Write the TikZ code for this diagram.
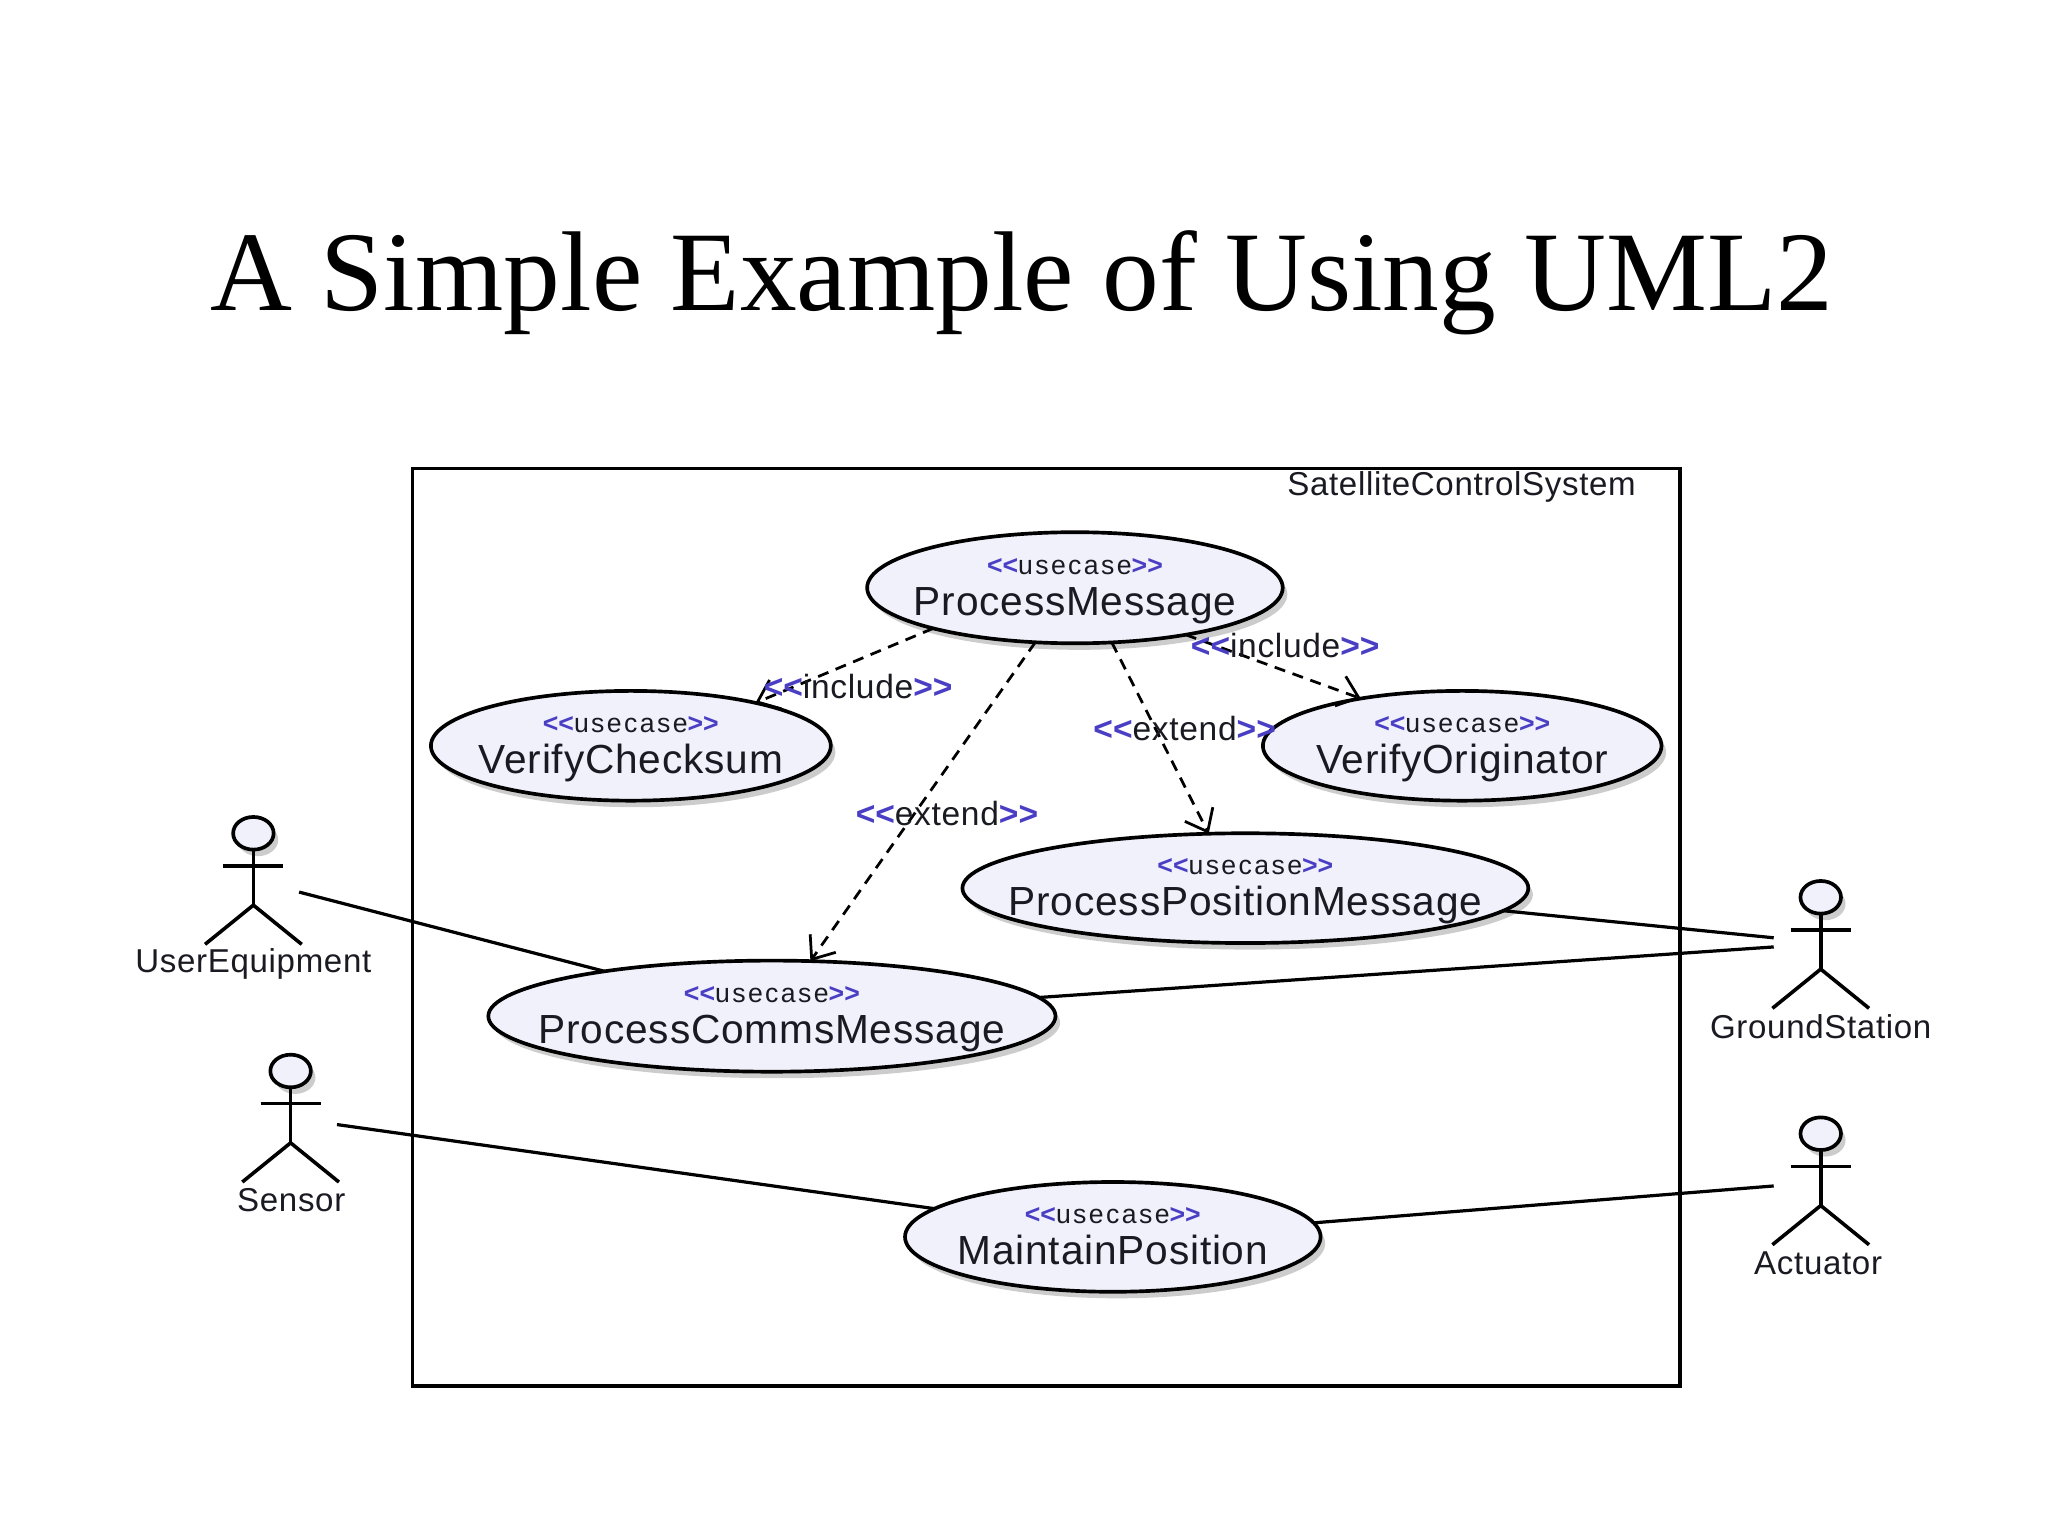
\documentclass[tikz,border=0pt]{standalone}
\usepackage{fontspec}
\usetikzlibrary{shapes.geometric,shadows,arrows.meta}
\setmainfont{Liberation Sans}
\newfontfamily\titlefont{Liberation Serif}
\newfontfamily\umlfont[LetterSpace=2]{Liberation Sans}
\newfontfamily\stereofont[LetterSpace=9]{Liberation Sans}
\definecolor{umlblue}{HTML}{4A3FC4}
\definecolor{umlfill}{HTML}{F1F1FC}
\definecolor{umlink}{HTML}{1A1A22}
\newcommand{\opn}{{\color{umlblue}\bfseries<\kern0pt<}}
\newcommand{\cls}{{\color{umlblue}\bfseries>\kern0pt>}}
\tikzset{
  softshadow/.style={drop shadow={shadow xshift=0.035cm,shadow yshift=-0.05cm,fill=black,opacity=0.2}},
  usecasebox/.style={ellipse,draw=black,line width=0.8pt,fill=umlfill,inner sep=0pt,outer sep=0pt,softshadow},
  headbox/.style={ellipse,draw=black,line width=0.8pt,fill=umlfill,inner sep=0pt,outer sep=0pt,
    minimum width=0.31cm,minimum height=0.25cm,softshadow},
  stereolabel/.style={inner sep=0pt,text height=4.5pt,text depth=0.5pt,font=\stereofont\fontsize{5.8}{6}\selectfont,text=umlink},
  namelabel/.style={inner sep=0pt,text height=6.5pt,text depth=2pt,font=\umlfont\fontsize{8.85}{10}\selectfont,text=umlink},
  actorlabel/.style={inner sep=0pt,font=\umlfont\fontsize{7.2}{8}\selectfont,text=umlink},
  edgelabel/.style={inner sep=0pt,font=\umlfont\fontsize{7.3}{8}\selectfont,text=umlink},
  depline/.style={draw=black,line width=0.6pt,dash pattern=on 0.085cm off 0.06cm,
    -{Straight Barb[length=0.15cm,width=0.24cm,line width=0.6pt]}},
  assocline/.style={draw=black,line width=0.7pt},
  stickline/.style={draw=black,line width=0.78pt},
}
% id, x, y, width(cm), height(cm), name
\newcommand{\usecase}[6]{
  \node[usecasebox,minimum width=#4cm,minimum height=#5cm] (#1) at (#2,#3) {};
  \node[stereolabel] (#1-st) at (#2,#3-17.5) {\opn usecase\cls};
  \node[namelabel] (#1-nm) at (#2,#3+13) {#6};
}
% id, head x, head y, label x, name, label offset
\newcommand{\actor}[6]{
  \node[headbox] (#1) at (#2,#3) {};
  \coordinate (#1-hip) at (#2,#3+55);
  \draw[stickline] (#1.south) -- (#1-hip);
  \draw[stickline] (#2-23,#3+25) -- (#2+23,#3+25);
  \draw[stickline] (#2-37,#3+85) -- (#1-hip) -- (#2+37,#3+85);
  \node[actorlabel] (#1-lb) at (#4,#3+#6) {#5};
}
\begin{document}
\begin{tikzpicture}[x=0.01cm,y=-0.01cm]
\useasboundingbox (0,0) rectangle (1568,1176);
\fill[white] (0,0) rectangle (1568,1176);
\node[inner sep=0pt,font=\titlefont\fontsize{24.7}{28}\selectfont,text=black,anchor=base] (title) at (782.5,238) {A Simple Example of Using UML2};

\node[draw=black,line width=0.8pt,minimum width=9.70cm,minimum height=7.02cm,inner sep=0pt,outer sep=0pt] (frame) at (801,710) {};
\node[actorlabel] (framelabel) at (1119,372.5) {SatelliteControlSystem};

\usecase{pm}{823}{450}{3.18}{0.85}{ProcessMessage}
\usecase{vc}{483}{571}{3.06}{0.84}{VerifyChecksum}
\usecase{vo}{1119.5}{571}{3.05}{0.84}{VerifyOriginator}
\usecase{ppm}{953.5}{680}{4.33}{0.84}{ProcessPositionMessage}
\usecase{pcm}{591}{778}{4.34}{0.85}{ProcessCommsMessage}
\usecase{mp}{852}{947}{3.18}{0.84}{MaintainPosition}

\actor{ue}{194}{638}{194}{UserEquipment}{100}
\actor{se}{222.5}{820}{223}{Sensor}{99}
\actor{gs}{1394}{687}{1394}{GroundStation}{99}
\actor{ac}{1394}{868}{1392}{Actuator}{99}

\coordinate (uefree) at (229,683);
\coordinate (sefree) at (258,861);
\coordinate (gsfreea) at (1358,718);
\coordinate (gsfreeb) at (1358,725);
\coordinate (acfree) at (1358,908);

\draw[assocline] (uefree) -- (pcm.165.5);
\draw[assocline] (sefree) -- (mp.171.2);
\draw[assocline] (ppm.355) -- (gsfreea);
\draw[assocline] (pcm.4.3) -- (gsfreeb);
\draw[assocline] (mp.4.9) -- (acfree);

\draw[depline] (pm.196) -- (vc.19.1);
\draw[depline] (pm.337.7) -- (vo.155.8);
\draw[depline] (pm.304.8) -- (ppm.124.3);
\draw[depline] (pm.234.3) -- (pcm.55.7);

\node[edgelabel] (lbinca) at (657,526) {\opn include\cls};
\node[edgelabel] (lbincb) at (984,494) {\opn include\cls};
\node[edgelabel] (lbexta) at (907,558) {\opn extend\cls};
\node[edgelabel] (lbextb) at (725,623) {\opn extend\cls};
\end{tikzpicture}
\end{document}
